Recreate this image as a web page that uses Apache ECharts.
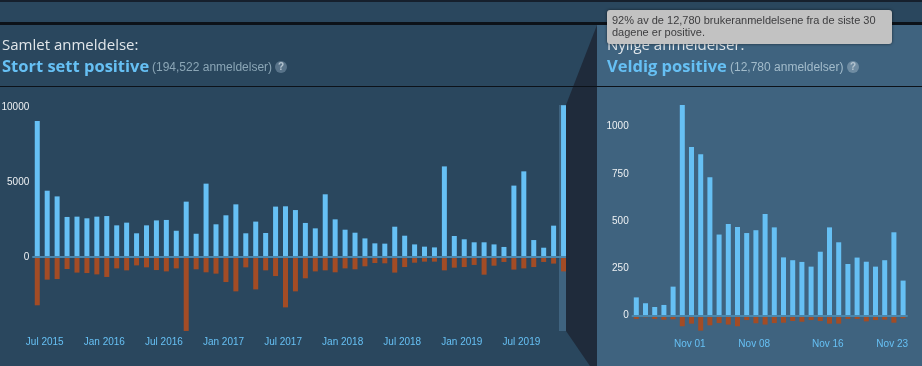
<!DOCTYPE html>
<html>
<head>
<meta charset="utf-8">
<style>
	html, body { margin: 0; padding: 0; background: #2a475e; }
	#chart { width: 922px; height: 366px; }
</style>
<script src="https://cdn.jsdelivr.net/npm/echarts@6/dist/echarts.min.js"></script>
</head>
<body>
<div id="chart"></div>
<script>
	var months = [
		'Jul 2015','Aug 2015','Sep 2015','Oct 2015','Nov 2015','Dec 2015',
		'Jan 2016','Feb 2016','Mar 2016','Apr 2016','May 2016','Jun 2016',
		'Jul 2016','Aug 2016','Sep 2016','Oct 2016','Nov 2016','Dec 2016',
		'Jan 2017','Feb 2017','Mar 2017','Apr 2017','May 2017','Jun 2017',
		'Jul 2017','Aug 2017','Sep 2017','Oct 2017','Nov 2017','Dec 2017',
		'Jan 2018','Feb 2018','Mar 2018','Apr 2018','May 2018','Jun 2018',
		'Jul 2018','Aug 2018','Sep 2018','Oct 2018','Nov 2018','Dec 2018',
		'Jan 2019','Feb 2019','Mar 2019','Apr 2019','May 2019','Jun 2019',
		'Jul 2019','Aug 2019','Sep 2019','Oct 2019','Nov 2019','Dec 2019'
	];
	var monthUp = [
		9070,4420,4040,2670,2690,2580,2690,2730,2110,2290,1580,2110,2440,2470,1750,3690,1550,4890,
		2180,2780,3510,1580,2360,1600,3360,3380,3130,2270,1910,4180,2510,1820,1620,1240,910,890,
		2020,1420,840,690,640,6040,1400,1180,980,980,840,670,4760,5710,1130,620,2090,10110
	];
	var monthDown = [
		-3220,-1510,-1470,-800,-1040,-1070,-1160,-1330,-760,-890,-560,-690,-870,-960,-760,-4930,-820,-1020,
		-1110,-1670,-2290,-690,-2160,-890,-1270,-3360,-2290,-1420,-960,-890,-1020,-760,-820,-620,-400,-420,
		-1040,-670,-380,-310,-310,-890,-710,-670,-530,-1180,-580,-330,-840,-760,-670,-330,-440,-960
	];

	var days = [
		'Oct 27','Oct 28','Oct 29','Oct 30','Oct 31','Nov 01','Nov 02','Nov 03','Nov 04','Nov 05',
		'Nov 06','Nov 07','Nov 08','Nov 09','Nov 10','Nov 11','Nov 12','Nov 13','Nov 14','Nov 15',
		'Nov 16','Nov 17','Nov 18','Nov 19','Nov 20','Nov 21','Nov 22','Nov 23','Nov 24','Nov 25'
	];
	var dayTicks = ['Nov 01','Nov 08','Nov 16','Nov 23'];
	var dayUp = [95,64,44,55,152,1115,892,853,731,428,484,468,436,451,537,466,307,292,283,258,337,466,387,272,306,284,258,292,440,184];
	var dayDown = [-19,-11,-19,-23,-21,-58,-44,-81,-53,-41,-49,-58,-25,-42,-49,-41,-39,-30,-34,-25,-30,-44,-44,-19,-19,-32,-25,-23,-39,-16];

	var monthTicksY = [0,5000,10000];
	var dayTicksY = [0,250,500,750,1000];

	var blue = '#66c0f4', red = '#a34c25', zeroLine = '#4b86ab';
	var leftBg = '#2a475e', rightBg = '#3f637f', wedge = '#1f2b3b', line = '#0c1219';
	var font = '"Liberation Sans", Arial, sans-serif';

	function xAxis(gridIndex, data, interval) {
		return {
			type: 'category', gridIndex: gridIndex, data: data,
			axisLine: { show: false, onZero: false },
			axisTick: { show: false },
			axisLabel: { color: blue, fontSize: 10, fontFamily: font, margin: 5, interval: interval, padding: [0, 0, 0, 15] }
		};
	}
	function yAxis(gridIndex, min, max, ticks) {
		return {
			type: 'value', gridIndex: gridIndex, min: min, max: max,
			axisLine: { show: false },
			axisTick: { show: false },
			splitLine: { show: false },
			axisLabel: {
				color: '#eef1f3', fontSize: 10, fontFamily: font, margin: 3, customValues: ticks,
				padding: [2, 0, 0, 0],
				formatter: function (v) { return String(v); }
			}
		};
	}
	function bars(idx, data, color, withZero) {
		var s = {
			type: 'bar', xAxisIndex: idx, yAxisIndex: idx, data: data, stack: 'r' + idx,
			barWidth: 5, silent: true, itemStyle: { color: color }
		};
		if (withZero) {
			s.markLine = {
				silent: true, symbol: 'none', animation: false,
				label: { show: false },
				lineStyle: { color: zeroLine, width: 2, type: 'solid' },
				data: [{ yAxis: 0 }]
			};
		}
		return s;
	}
	function text(x, y, str, fontCss, fill, z) {
		return { type: 'text', z: z || 1, style: { x: x, y: y, text: str, font: fontCss, fill: fill, textVerticalAlign: 'middle' } };
	}
	function help(x, y, fill) {
		return [
			{ type: 'circle', z: 1, shape: { cx: x, cy: y, r: 6 }, style: { fill: fill } },
			{ type: 'text', z: 2, style: { x: x, y: y, text: '?', font: 'bold 10px ' + font, fill: '#b4c4d0', textAlign: 'center', textVerticalAlign: 'middle' } }
		];
	}

	var chrome = [
		{ type: 'rect', z: -5, shape: { x: 0, y: 0, width: 922, height: 366 }, style: { fill: leftBg } },
		{ type: 'rect', z: -4, shape: { x: 597, y: 25, width: 325, height: 341 }, style: { fill: rightBg } },
		// wedge sits over the series so the zero line stops at its edge
		{ type: 'polygon', z: 10, shape: { points: [[597, 25], [566, 105], [566, 331], [590, 366], [597, 366]] }, style: { fill: wedge } },
		{ type: 'rect', z: -2, shape: { x: 559, y: 105, width: 7, height: 226 }, style: { fill: rightBg } },
		{ type: 'rect', z: -1, shape: { x: 0, y: 0, width: 922, height: 2 }, style: { fill: '#16202d' } },
		{ type: 'rect', z: 11, shape: { x: 0, y: 22, width: 922, height: 3 }, style: { fill: line } },
		{ type: 'rect', z: 11, shape: { x: 0, y: 86, width: 922, height: 1 }, style: { fill: line } },

		text(2, 46, 'Samlet anmeldelse:', '15px "Open Sans", sans-serif', '#e1e6ea'),
		text(2, 67, 'Stort sett positive', 'bold 16.5px "Open Sans", sans-serif', blue),
		text(152, 68, '(194,522 anmeldelser)', '12px ' + font, '#8ba6b6'),
		text(607, 46, 'Nylige anmeldelser:', '15px "Open Sans", sans-serif', '#e1e6ea'),
		text(607, 67, 'Veldig positive', 'bold 16.5px "Open Sans", sans-serif', blue),
		text(730, 68, '(12,780 anmeldelser)', '12px ' + font, '#a3bccb'),

		{ type: 'rect', z: 20, shape: { x: 607, y: 10, width: 285, height: 34, r: 3 }, style: { fill: '#c2c2c2', shadowBlur: 3, shadowColor: 'rgba(0,0,0,0.6)' } },
		text(612, 21, '92% av de 12,780 brukeranmeldelsene fra de siste 30', '11px ' + font, '#3d3d3f', 21),
		text(612, 33, 'dagene er positive.', '11px ' + font, '#3d3d3f', 21)
	].concat(help(281, 67, '#587389'), help(853, 67, '#6f8ca2'));

	var chart = echarts.init(document.getElementById('chart'), null, { renderer: 'canvas' });
	chart.setOption({
		animation: false,
		backgroundColor: 'transparent',
		graphic: { elements: chrome },
		grid: [
			{ left: 32.3, top: 104, width: 536.2, height: 228, containLabel: false, outerBoundsMode: 'none' },
			{ left: 631.7, top: 103, width: 276, height: 231.2, containLabel: false, outerBoundsMode: 'none' }
		],
		xAxis: [
			xAxis(0, months, 5),
			xAxis(1, days, function (i, v) { return dayTicks.indexOf(v) >= 0; })
		],
		yAxis: [
			yAxis(0, -5000, 10200, monthTicksY),
			yAxis(1, -100, 1125, dayTicksY)
		],
		series: [
			bars(0, monthUp, blue, true),
			bars(0, monthDown, red),
			bars(1, dayUp, blue, true),
			bars(1, dayDown, red)
		]
	});
</script>
</body>
</html>
